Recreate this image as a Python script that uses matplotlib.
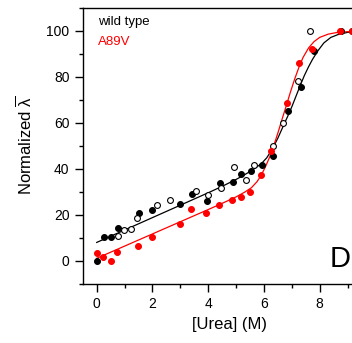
import matplotlib
matplotlib.use('Agg')
import matplotlib.pyplot as plt
from matplotlib.ticker import MultipleLocator, FixedLocator

plt.rcParams['font.family'] = ['Liberation Sans', 'DejaVu Sans']
plt.rcParams['mathtext.fontset'] = 'custom'
plt.rcParams['mathtext.rm'] = 'Liberation Sans'

# wild type, filled symbols
wt_x = [0, 0.25, 0.5, 0.75, 1.5, 2.0, 3.0, 3.42, 3.94, 4.42, 4.88, 5.19, 5.54,
        5.94, 6.32, 6.86, 7.34, 7.81, 8.75, 9.15]
wt_y = [0.0, 10.4, 10.4, 14.1, 20.9, 22.0, 24.7, 29.1, 26.0, 33.9, 34.2, 37.8,
        39.2, 41.6, 45.5, 65.0, 75.5, 91.4, 100.0, 100.0]

# wild type, open symbols (second set)
wt2_x = [0.76, 0.99, 1.23, 1.45, 2.15, 2.63, 3.56, 3.99, 4.46, 4.92, 5.36,
         5.64, 6.31, 6.70, 7.23, 7.65]
wt2_y = [10.8, 13.3, 14.0, 18.5, 24.4, 26.5, 30.5, 28.6, 31.7, 41.0, 35.2,
         41.5, 49.8, 59.8, 78.1, 100.0]

# A89V
mut_x = [0, 0.24, 0.5, 0.74, 1.48, 1.98, 2.98, 3.4, 3.93, 4.4, 4.86, 5.17,
         5.5, 5.88, 6.25, 6.82, 7.27, 7.74, 8.73, 9.15]
mut_y = [3.3, 1.5, 0.0, 3.8, 6.4, 10.4, 15.9, 22.4, 20.7, 24.4, 26.5, 27.9,
         30.1, 37.3, 47.9, 68.5, 86.2, 92.2, 100.0, 100.0]

# fitted curves
wt_fit_x = [0, 1, 2, 3, 4, 4.5, 5.0, 5.3, 5.6, 5.9, 6.1, 6.3, 6.5, 6.7, 6.85,
            7.0, 7.15, 7.3, 7.45, 7.6, 7.75, 7.95, 8.15, 8.4, 8.65, 9.0, 9.5]
wt_fit_y = [8.0, 13.4, 18.8, 24.2, 29.6, 32.4, 35.4, 37.4, 39.6, 42.2, 44.8,
            48.6, 53.4, 58.8, 62.8, 67.0, 71.6, 76.2, 80.6, 84.4, 87.8, 91.6,
            94.8, 97.2, 98.4, 99.4, 99.8]

mut_fit_x = [0, 1, 2, 3, 4, 4.5, 5.0, 5.3, 5.55, 5.75, 5.9, 6.05, 6.2, 6.35,
             6.5, 6.65, 6.8, 6.95, 7.1, 7.25, 7.4, 7.6, 7.8, 8.0, 8.3, 8.6, 9.0, 9.5]
mut_fit_y = [1.1, 6.4, 11.7, 17.0, 22.3, 25.0, 27.8, 29.8, 31.8, 34.4, 37.2,
             40.8, 45.0, 50.0, 55.6, 61.6, 67.4, 73.4, 79.0, 84.0, 88.4, 92.6,
             95.4, 97.2, 98.6, 99.3, 99.7, 99.9]

x_ticks = [0, 2, 4, 6, 8]
x_minor = [1, 3, 5, 7, 9]

fig = plt.figure(figsize=(3.52, 3.43), dpi=100)
ax = fig.add_axes([0.2352, 0.1726, 0.8313, 0.8041])

ax.plot(wt_fit_x, wt_fit_y, color='black', lw=0.9, zorder=2)
ax.plot(mut_fit_x, mut_fit_y, color='#ff0000', lw=0.9, zorder=2)
ax.plot(wt_x, wt_y, 'o', color='black', ms=4.2, mew=0.8, zorder=3)
ax.plot(wt2_x, wt2_y, 'o', mfc='white', mec='black', ms=4.2, mew=0.8, zorder=3)
ax.plot(mut_x, mut_y, 'o', color='#ff0000', ms=4.2, mew=0.8, zorder=4)

ax.text(0.04, 102.5, 'wild type', fontsize=9.5, color='black', va='baseline')
ax.text(0.04, 93.9, 'A89V', fontsize=9.5, color='#ff0000', va='baseline')
ax.text(8.36, -2.6, 'D', fontsize=21, color='black', va='baseline', ha='left')

ax.set_xlim(-0.5, 10)
ax.set_ylim(-10, 110)
ax.xaxis.set_major_locator(FixedLocator(x_ticks))
ax.xaxis.set_minor_locator(FixedLocator(x_minor))
ax.yaxis.set_major_locator(MultipleLocator(20))
ax.yaxis.set_minor_locator(MultipleLocator(10))
ax.tick_params(which='major', direction='out', length=6, width=1, labelsize=10, pad=3.5)
ax.tick_params(which='minor', direction='out', length=3, width=1)
ax.tick_params(top=False, right=False, which='both')
for s in ax.spines.values():
    s.set_linewidth(1.0)

ax.set_xlabel('[Urea] (M)', fontsize=12, labelpad=4)
ax.set_ylabel(r'Normalized $\overline{\mathrm{\lambda}}$', fontsize=12, labelpad=8)

fig.savefig('out.png', dpi=100)
